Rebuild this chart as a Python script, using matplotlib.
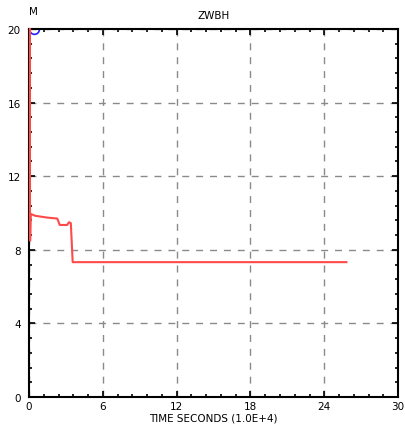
import numpy as np
import matplotlib.pyplot as plt
from matplotlib.ticker import MultipleLocator

# red trace, time in units of 1.0E+4 seconds
time_red = [0.08, 0.08, 0.1, 0.15, 0.5, 1.5, 2.3, 2.5, 3.1, 3.25, 3.4, 3.55, 25.8]
value_red = [20.0, 8.5, 8.5, 9.95, 9.85, 9.75, 9.7, 9.35, 9.35, 9.5, 9.45, 7.33, 7.33]

# blue marker at the top
time_blue = [0.4]
value_blue = [20.0]

x_ticks = [0, 6, 12, 18, 24, 30]
y_ticks = [0, 4, 8, 12, 16, 20]

fig = plt.figure(figsize=(4.05, 4.35), dpi=100)
ax = fig.add_axes([0.0716, 0.085, 0.9114, 0.846])

ax.plot(time_red, value_red, color='#ff4a4a', linewidth=1.5, zorder=5, clip_on=False)
ax.plot(time_blue, value_blue, marker='o', markersize=7, markerfacecolor='none',
        markeredgecolor='#2020ff', markeredgewidth=1.2, linestyle='none', zorder=2)

ax.set_xlim(0, 30)
ax.set_ylim(0, 20)
ax.set_xticks(x_ticks)
ax.set_yticks(y_ticks)
ax.xaxis.set_minor_locator(MultipleLocator(1.2))
ax.yaxis.set_minor_locator(MultipleLocator(0.8))
ax.tick_params(which='both', direction='in', top=True, right=True, labelsize=7.5, width=1.2)
ax.tick_params(which='major', length=4)
ax.tick_params(which='minor', length=2.5)
ax.tick_params(axis='x', pad=3)
ax.tick_params(axis='y', pad=6)
for s in ax.spines.values():
    s.set_linewidth(1.5)

ax.grid(True, which='major', linestyle=(0, (5, 5)), color='#8a8a8a', linewidth=1.0)

ax.set_xlabel("TIME SECONDS (1.0E+4)", fontsize=7.5, labelpad=1)
ax.set_title("ZWBH", fontsize=7.5, pad=8)
ax.text(0.0, 1.035, "M", transform=ax.transAxes, fontsize=7.5, ha='left', va='bottom')

fig.savefig("out.png", dpi=100)
